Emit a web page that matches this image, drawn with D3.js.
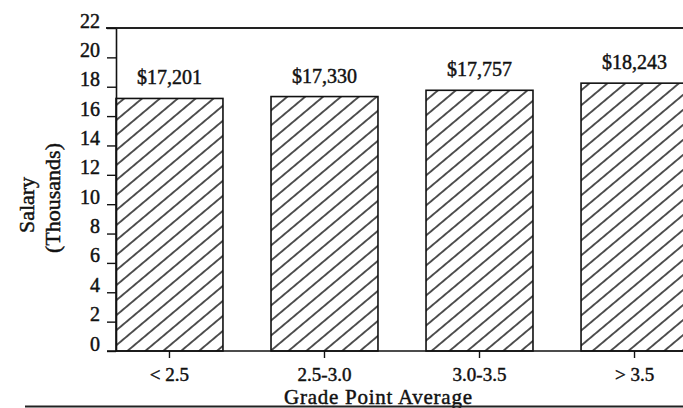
<!DOCTYPE html>
<html>
<head>
<meta charset="utf-8">
<script src="https://cdn.jsdelivr.net/npm/d3@7"></script>
<style>
  html, body { margin: 0; padding: 0; background: #fff; }
  svg { display: block; font-family: "Liberation Serif", "Times New Roman", serif; }
  svg text { stroke: #111; stroke-width: 0.45px; fill: #111; }
</style>
</head>
<body>
<svg id="chart" width="683" height="408"></svg>
<script>
// Starting salary by grade point average
const categories = ["< 2.5", "2.5-3.0", "3.0-3.5", "> 3.5"];
const salaries = [17201, 17330, 17757, 18243];          // dollars
const yTicks = [0, 2, 4, 6, 8, 10, 12, 14, 16, 18, 20, 22]; // thousands
const yTitle = ["Salary", "(Thousands)"];
const xTitle = "Grade Point Average";

(function () {
  const svg = d3.select("#chart");
  const W = 683, H = 408;
  const plotLeft = 116, plotTop = 28, plotBase = 351;

  svg.append("rect").attr("width", W).attr("height", H).attr("fill", "#fff");

  // diagonal hatch used to fill the bars
  const gap = 11.5;
  const defs = svg.append("defs");
  const pat = defs.append("pattern")
    .attr("id", "hatch")
    .attr("patternUnits", "userSpaceOnUse")
    .attr("width", 40).attr("height", gap)
    .attr("patternTransform", "rotate(-40)");
  pat.append("rect").attr("width", 40).attr("height", gap).attr("fill", "#fff");
  pat.append("line")
    .attr("x1", 0).attr("x2", 40).attr("y1", gap / 2).attr("y2", gap / 2)
    .attr("stroke", "#111").attr("stroke-width", 1.4);

  const x = d3.scaleBand()
    .domain(categories)
    .range([plotLeft, 688])
    .paddingInner(0.31)
    .paddingOuter(0)
    .align(0);

  const y = d3.scaleLinear().domain([0, 22]).range([plotBase, plotTop]);

  // top rule of the frame
  svg.append("line")
    .attr("x1", 106).attr("x2", W).attr("y1", y(22)).attr("y2", y(22))
    .attr("stroke", "#222").attr("stroke-width", 2);

  // bars
  svg.append("g").selectAll("rect")
    .data(salaries)
    .join("rect")
    .attr("x", (d, i) => x(categories[i]))
    .attr("width", x.bandwidth())
    .attr("y", d => y(d / 1000))
    .attr("height", d => y(0) - y(d / 1000))
    .attr("fill", "url(#hatch)")
    .attr("stroke", "#111")
    .attr("stroke-width", 1.6);

  // value labels above bars
  const fmt = d3.format("$,");
  svg.append("g").selectAll("text")
    .data(salaries)
    .join("text")
    .attr("x", (d, i) => x(categories[i]) + x.bandwidth() / 2)
    .attr("y", d => y(d / 1000) - 14)
    .attr("text-anchor", "middle")
    .attr("font-size", 20)
    .text(d => fmt(d));

  // y axis
  const yAxis = svg.append("g")
    .attr("transform", `translate(${plotLeft},0)`)
    .call(d3.axisLeft(y).tickValues(yTicks).tickSize(9).tickSizeOuter(0));
  yAxis.attr("font-size", 20).attr("font-family", null);
  yAxis.select(".domain").attr("stroke", "#111").attr("stroke-width", 1.6);
  yAxis.selectAll(".tick line").attr("stroke", "#111").attr("stroke-width", 1.4);
  yAxis.selectAll(".tick text")
    .attr("x", -16)
    .attr("dy", "-0.05em")
    .attr("font-size", 20);

  // x axis
  const xAxis = svg.append("g")
    .attr("transform", `translate(0,${plotBase})`)
    .call(d3.axisBottom(x).tickSize(7).tickSizeOuter(0));
  xAxis.attr("font-size", 19).attr("font-family", null);
  xAxis.select(".domain").remove();
  xAxis.selectAll(".tick line").attr("stroke", "#111").attr("stroke-width", 1.4);
  xAxis.selectAll(".tick text")
    .attr("y", 30)
    .attr("dy", 0)
    .attr("font-size", 19);

  // baseline
  svg.append("line")
    .attr("x1", 107).attr("x2", W).attr("y1", plotBase).attr("y2", plotBase)
    .attr("stroke", "#111").attr("stroke-width", 1.6);

  // axis titles
  svg.append("text")
    .attr("x", 378).attr("y", 403.5)
    .attr("text-anchor", "middle")
    .attr("font-size", 21)
    .attr("textLength", 188)
    .attr("lengthAdjust", "spacing")
    .text(xTitle);

  svg.append("line")
    .attr("x1", 25).attr("x2", W).attr("y1", 406.5).attr("y2", 406.5)
    .attr("stroke", "#222").attr("stroke-width", 2);

  const yt = svg.append("text")
    .attr("transform", "translate(0,200) rotate(-90)")
    .attr("text-anchor", "middle")
    .attr("font-size", 22);
  yt.append("tspan").attr("x", -5).attr("y", 34).text(yTitle[0]);
  yt.append("tspan").attr("x", 2).attr("y", 60).text(yTitle[1]);
})();
</script>
</body>
</html>
